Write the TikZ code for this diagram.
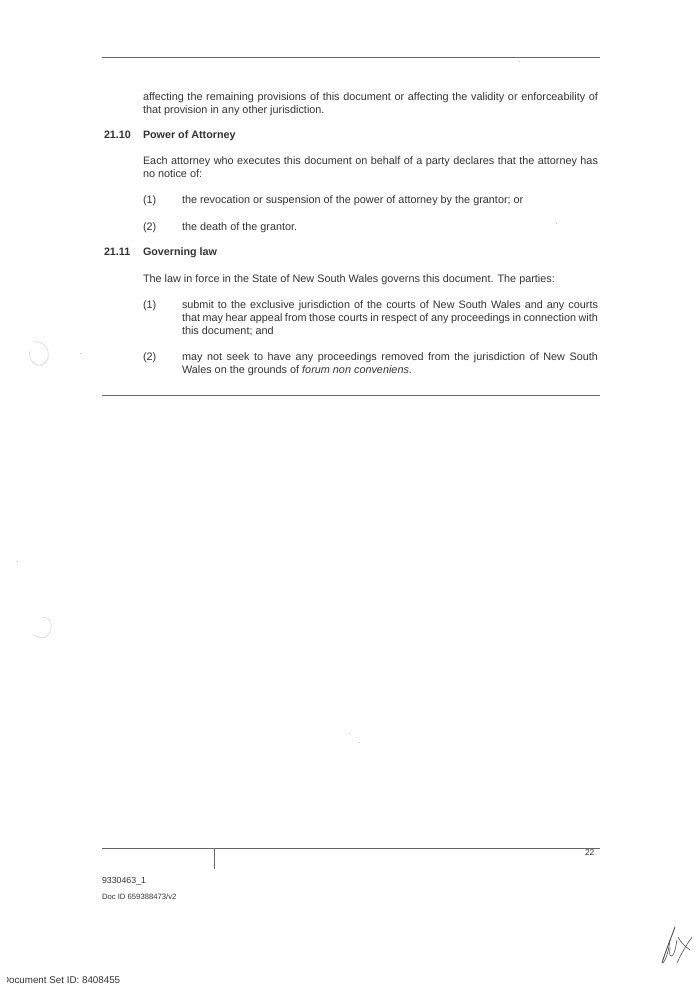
\documentclass[tikz,border=0pt]{standalone}
\usepackage{fontspec}
\setmainfont{Liberation Sans}
\usetikzlibrary{calc}

\begin{document}
\begin{tikzpicture}[
		x=1pt,y=-1pt,
		rule/.style={line width=0.8pt,black!60},
		every node/.style={inner sep=0,outer sep=0,anchor=north west,text=black!80},
		body/.style={font=\fontsize{10.85}{13}\selectfont},
		para/.style={body,text width=455pt,align=justify},
		item/.style={body,text width=416pt,align=justify},
		head/.style={font=\fontsize{10.75}{13}\selectfont\bfseries},
		faint/.style={line width=0.7pt,black!15},
		speck/.style={fill=black!35,circle,minimum size=1pt},
		pen/.style={line width=0.6pt,black!70,line join=round,line cap=round}]

		\useasboundingbox (0,0) rectangle (694,990);

		\coordinate (topL) at (102,57);
		\coordinate (topR) at (600,57);
		\coordinate (midL) at (102,395);
		\coordinate (midR) at (600,395);
		\coordinate (footL) at (102,848);
		\coordinate (footR) at (600,848);
		\coordinate (tick) at (214,848);
		\coordinate (tickEnd) at (214,869);

		\draw[rule] (topL) -- (topR);
		\draw[rule] (midL) -- (midR);
		\draw[rule] (footL) -- (footR);
		\draw[rule] (tick) -- (tickEnd);

		\node[para] (rest) at (143,93) {affecting the remaining provisions of this document or affecting the validity or enforceability of that provision in any other jurisdiction.};

		\node[head] (numA) at (104,131) {21.10};
		\node[head] (headA) at (143,131) {Power of Attorney};
		\node[para] (attorney) at (143,157) {Each attorney who executes this document on behalf of a party declares that the attorney has no notice of:};
		\node[body] (a1) at (143,196) {(1)};
		\node[item] (a1t) at (182,196) {the revocation or suspension of the power of attorney by the grantor; or};
		\node[body] (a2) at (143,223) {(2)};
		\node[item] (a2t) at (182,223) {the death of the grantor.};

		\node[head] (numB) at (104,248) {21.11};
		\node[head] (headB) at (143,248) {Governing law};
		\node[para] (law) at (143,275) {The law in force in the State of New South Wales governs this document. The parties:};
		\node[body] (b1) at (143,301) {(1)};
		\node[item] (b1t) at (182,301) {submit to the exclusive jurisdiction of the courts of New South Wales and any courts\linebreak that may hear appeal from those courts in respect of any proceedings in connection with\linebreak this document; and};
		\node[body] (b2) at (143,353) {(2)};
		\node[item] (b2t) at (182,353) {may not seek to have any proceedings removed from the jurisdiction of New South\linebreak Wales on the grounds of \textit{forum non conveniens}.};

		\node[font=\fontsize{8.5}{10}\selectfont] (page) at (585,850) {22};
		\node[font=\fontsize{8.8}{10}\selectfont] (ref) at (102,877) {9330463\_1};
		\node[font=\fontsize{7.7}{9}\selectfont] (docid) at (102,894) {Doc ID 659388473/v2};
		\begin{scope}
			\clip (7,970) rectangle (130,990);
			\node[font=\fontsize{9.8}{11}\selectfont] (docset) at (2,977) {Document Set ID: 8408455};
		\end{scope}

		% punch holes
		\draw[faint] (33,342) .. controls (44,340) and (50,350) .. (48,358) .. controls (46,364) and (41,366) .. (37,365);
		\draw[faint] (30,350) .. controls (28,355) and (30,362) .. (37,365);
		\draw[faint] (42,617) .. controls (52,616) and (54,630) .. (47,636) .. controls (43,639) and (38,638) .. (34,635);

		% specks
		\node[speck] (s1) at (80,353) {};
		\node[speck] (s2) at (17,561) {};
		\node[speck] (s3) at (349,733) {};
		\node[speck] (s4) at (359,742) {};
		\node[speck] (s5) at (519,61) {};
		\node[speck] (s6) at (556,223) {};

		% initials
		\draw[pen,line width=0.9pt] (662,963) .. controls (666,950) and (671,938) .. (675,927);
		\draw[pen] (663,963) .. controls (667,958) and (669,948) .. (670,940);
		\draw[pen] (670,948) .. controls (669,955) and (670,958) .. (673,955) .. controls (675,952) and (676,946) .. (677,940);
		\draw[pen] (677,963) .. controls (682,952) and (687,944) .. (692,937);
		\draw[pen] (678,937) .. controls (681,943) and (686,947) .. (690,950);
\end{tikzpicture}
\end{document}
